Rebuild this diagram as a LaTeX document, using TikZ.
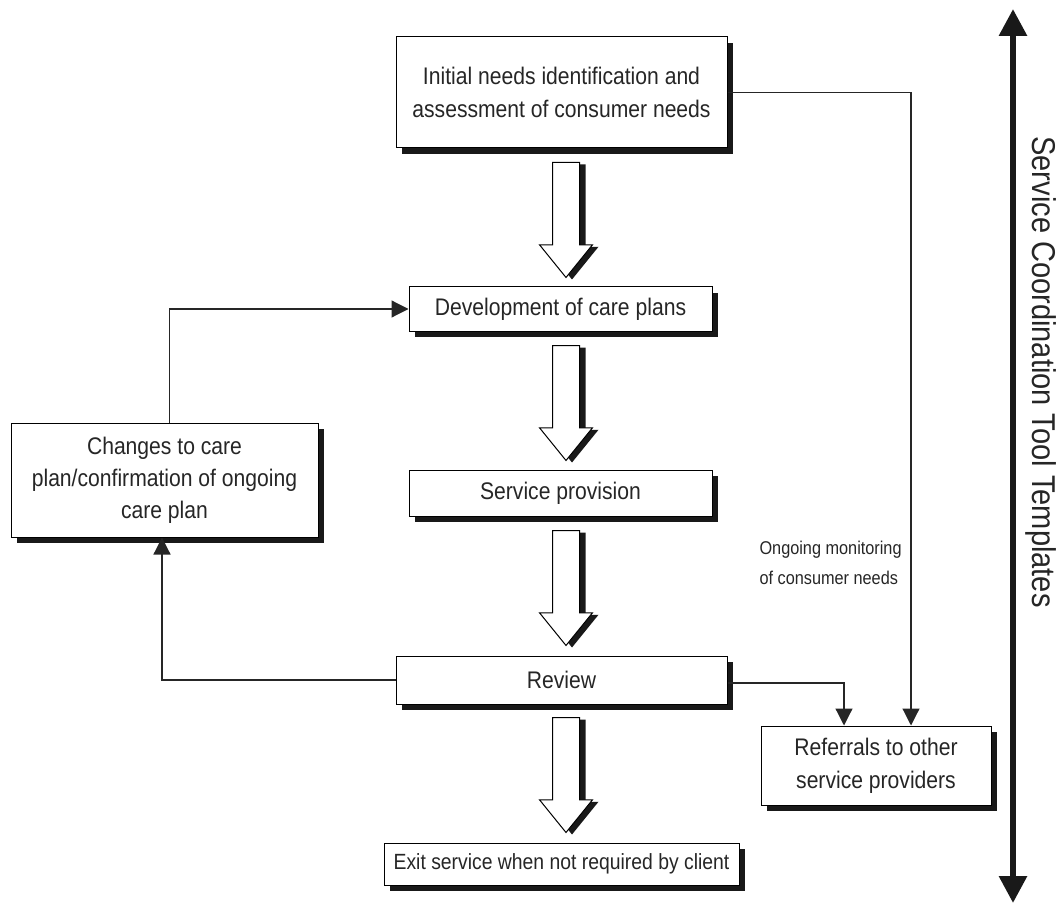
\documentclass[tikz,border=0pt]{standalone}
\usepackage{fontspec}
\setmainfont{Liberation Sans}[FakeStretch=0.88]
\usetikzlibrary{shapes.arrows,shadows,arrows.meta}

\begin{document}
\begin{tikzpicture}[x=1pt,y=1pt]
\tikzstyle{stage}=[rectangle,draw,line width=1pt,fill=white,align=center,
  font=\fontsize{24}{33}\selectfont,text=black!85,inner sep=0pt,
  drop shadow={shadow xshift=6pt,shadow yshift=-6pt,fill=black!90,opacity=1}]
\tikzstyle{flowarrow}=[single arrow,draw,line width=1pt,fill=white,inner sep=13pt,
  minimum height=115pt,minimum width=52pt,single arrow head extend=13pt,
  single arrow tip angle=78,shape border rotate=270,anchor=tail,
  drop shadow={shadow xshift=6pt,shadow yshift=-2pt,fill=black!90,opacity=1}]
\tikzstyle{link}=[line width=1.2pt,draw=black!85,-{Triangle[length=17pt,width=17pt]}]
\useasboundingbox (0,0) rectangle (1058,-904);

\node[stage,minimum width=331pt,minimum height=111pt] (init) at (561.5,-92.5)
  {Initial needs identification and\\assessment of consumer needs};
\node[stage,minimum width=303pt,minimum height=44pt] (dev) at (560.5,-309)
  {Development of care plans};
\node[stage,minimum width=303pt,minimum height=46pt] (serv) at (560.5,-493)
  {Service provision};
\node[stage,minimum width=331pt,minimum height=48pt] (review) at (561.5,-680)
  {Review};
\node[stage,minimum width=355pt,minimum height=42pt,font=\fontsize{22}{30}\selectfont] (exit) at (561.5,-864)
  {Exit service when not required by client};
\node[stage,minimum width=307pt,minimum height=114pt,font=\fontsize{24}{32}\selectfont] (changes) at (164.5,-480)
  {Changes to care\\plan/confirmation of ongoing\\care plan};
\node[stage,minimum width=230pt,minimum height=79pt] (refer) at (876,-765.5)
  {Referrals to other\\service providers};

% big arrows between the stages
\node[flowarrow] (a1) at (566,-162) {};
\node[flowarrow] (a2) at (566,-345) {};
\node[flowarrow] (a3) at (566,-530) {};
\node[flowarrow] (a4) at (566,-717) {};

\node[anchor=west,align=left,font=\fontsize{18.5}{30}\selectfont,text=black!85] (monitor) at (756,-563)
  {Ongoing monitoring\\of consumer needs};

% feedback and referral links
\draw[link] ([xshift=5pt]changes.north) |- (dev.west);
\draw[link] (review.west) -| ([xshift=-2.5pt]changes.south);
\draw[link] (init.east) -| ([xshift=35pt]refer.north);
\draw[link] ([yshift=-3pt]review.east) -| ([xshift=-32pt]refer.north);

% side bar
\coordinate (bartop) at (1013,-9);
\coordinate (barbot) at (1013,-903);
\draw[line width=6pt,draw=black!90,{Triangle[length=27pt,width=27pt]}-{Triangle[length=27pt,width=27pt]}] (bartop) -- (barbot);
\node[rotate=-90,font=\fontsize{33}{36}\selectfont,text=black!85] (side) at (1041,-372)
  {Service Coordination Tool Templates};

\end{tikzpicture}
\end{document}
